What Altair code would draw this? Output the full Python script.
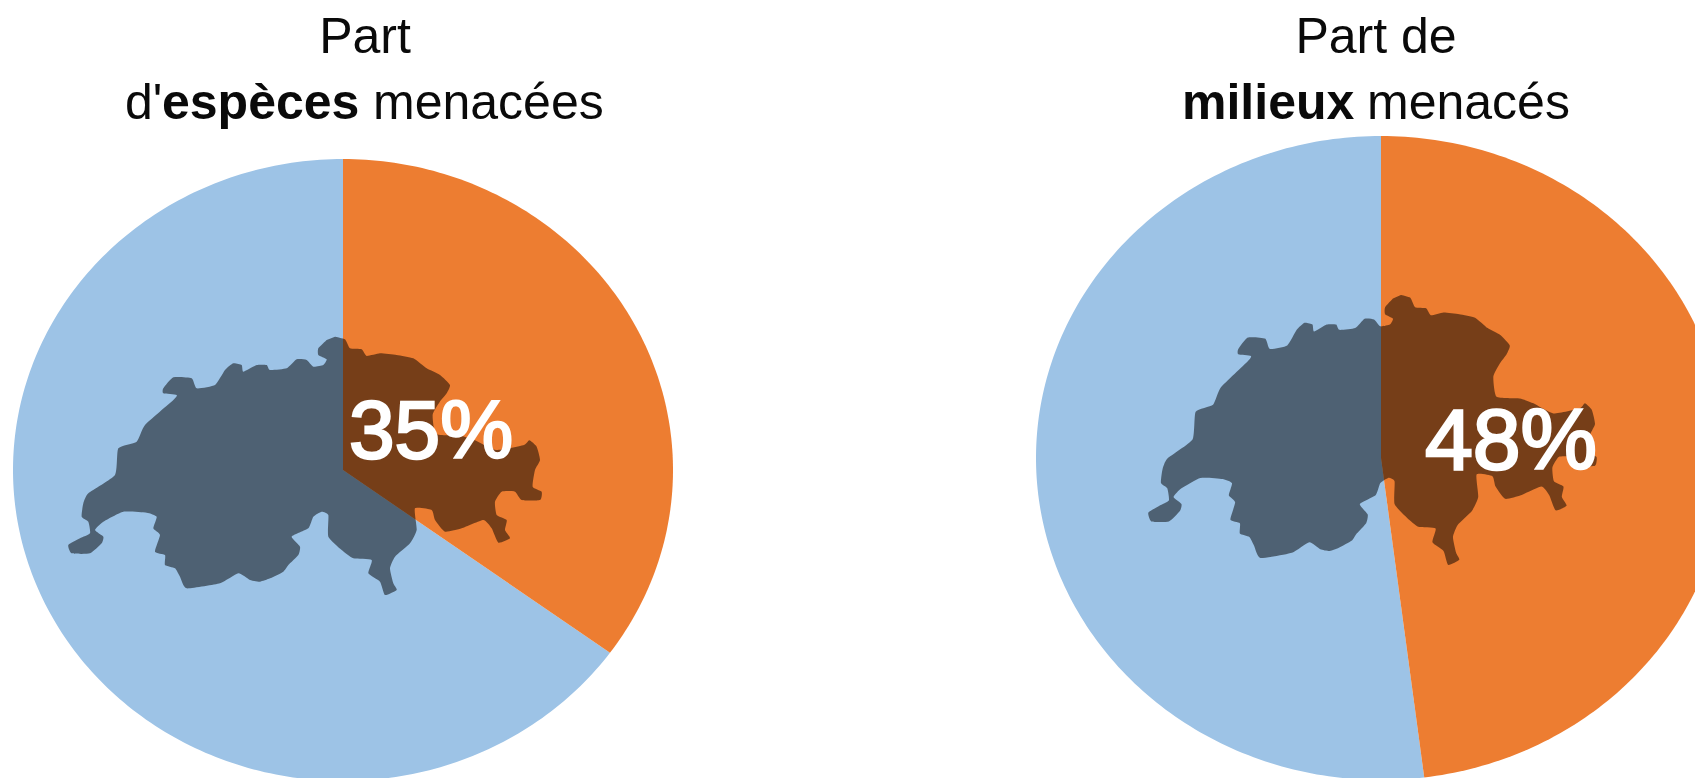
import math
import altair as alt
import pandas as pd

# shares of threatened species / habitats (%)
shares = [35, 48]
labels = ["35%", "48%"]
slice_names = ["menacé", "autre"]
slice_colors = ["#ED7D31", "#9DC3E6"]

# pie frames in picture pixels: centre x, centre y, x radius, y radius
pie_cx = [343, 1381]
pie_cy = [470, 458]
pie_rx = [330, 345]
pie_ry = [311, 322]

# Outline of Switzerland
swiss_x = [825,855,870,905,920,960,1010,1060,1100,1140,1170,1160,1139,1118,1128,1202,1245,1308,1392,1408,
           1430,1440,1425,1418,1445,1440,1385,1365,1325,1305,1310,1340,1335,1350,1315,1295,1270,1205,1155,1125,
           1115,1065,1070,1050,1005,990,1000,1010,975,960,925,935,880,845,805,805,785,760,745,695,
           720,715,685,670,630,600,570,535,480,380,360,345,315,315,285,300,280,290,260,190,
           130,105,130,125,90,35,25,60,90,85,65,70,85,165,175,230,255,340,350,310,
           310,340,395,410,465,495,520,545,550,590,620,630,680,710,740,760,790,800,775,775,800]
swiss_y = [50,58,85,88,108,100,105,115,145,165,195,220,246,284,342,347,361,390,375,361,
           380,420,450,500,515,540,540,515,515,545,585,600,630,655,668,625,600,625,635,600,
           570,565,630,670,710,745,790,810,825,785,760,720,715,690,650,585,575,590,625,650,
           680,705,735,755,775,785,780,760,790,805,770,745,735,705,695,645,625,590,578,575,
           605,630,650,670,700,700,675,655,640,605,590,550,520,465,385,365,315,240,225,220,
           205,172,175,205,195,150,130,135,155,135,135,150,145,118,120,140,135,118,105,85,60]

# Placement of the outline on each pie: left, top, x scale, y scale
map_x0 = [60 + 25 / 3, 1130 + 55 / 3]
map_y0 = [320 + 50 / 3, 280 + 45 / 3]
map_sx = [1 / 3, 0.947 / 3]
map_sy = [1 / 3, 1.045 / 3]

# Title pieces: text, x, baseline y, weight, anchor
title_text = ["Part", "d'", "espèces", "menacées", "Part de", "milieux", "menacés"]
title_x = [365, 125, 162, 373, 1376, 1182, 1367]
title_y = [53, 119, 119, 119, 53, 119, 119]
title_weight = ["normal", "normal", "bold", "normal", "normal", "bold", "normal"]
title_align = ["center", "left", "left", "left", "center", "left", "left"]

label_x = [431, 1511]
label_y = [458, 469]
label_size = [82, 86]

# ----- tables -----
slices = []
for p, share in enumerate(shares):
    for name, a, b in (("autre", share, 100), ("menacé", 0, share)):
        key = f"{p}-{name}"
        rows = [(pie_cx[p], pie_cy[p])]
        n = max(2, int((b - a) * 3.6) + 1)
        for i in range(n + 1):
            t = 2 * math.pi * (a + (b - a) * i / n) / 100
            rows.append((pie_cx[p] + pie_rx[p] * math.sin(t), pie_cy[p] - pie_ry[p] * math.cos(t)))
        for i, (x, y) in enumerate(rows):
            slices.append({"x": x, "y": y, "i": i, "key": key, "slice": name,
                           "layer": 0 if name == "autre" else 1})
slices = pd.DataFrame(slices)

maps = []
for p in range(2):
    for i, (sx, sy) in enumerate(zip(swiss_x, swiss_y)):
        maps.append({"x": map_x0[p] + (sx - 25) * map_sx[p],
                     "y": map_y0[p] + (sy - 50) * map_sy[p], "i": i, "map": p})
maps = pd.DataFrame(maps)

titles = pd.DataFrame({"t": title_text, "x": title_x, "y": title_y,
                       "w": title_weight, "a": title_align})
pct = pd.DataFrame({"t": labels, "x": label_x, "y": label_y, "s": label_size})

W, H = 1687, 770
X = alt.X("x:Q", scale=alt.Scale(domain=[8, 8 + W], nice=False, zero=False), axis=None)
Y = alt.Y("y:Q", scale=alt.Scale(domain=[8 + H, 8], nice=False, zero=False), axis=None)

layers = []
for layer in (0, 1):
    layers.append(
        alt.Chart(slices[slices.layer == layer]).mark_line(filled=True, strokeWidth=0, interpolate="linear").encode(
            x=X, y=Y, order="i:Q", detail="key:N",
            color=alt.Color("slice:N", scale=alt.Scale(domain=slice_names, range=slice_colors), legend=None),
        )
    )

swiss = alt.Chart(maps).mark_line(filled=True, strokeWidth=0, color="#000000", fillOpacity=0.5,
                                  interpolate="cardinal", tension=0.5).encode(
    x=X, y=Y, order="i:Q", detail="map:N"
)
layers.append(swiss)

for w in ("normal", "bold"):
    for a in ("left", "center"):
        sub = titles[(titles.w == w) & (titles.a == a)]
        if len(sub):
            layers.append(
                alt.Chart(sub).mark_text(font="Liberation Sans", fontSize=50, fontWeight=w, align=a,
                                         baseline="alphabetic", color="#0a0a0a").encode(x=X, y=Y, text="t:N")
            )

for _, row in pct.iterrows():
    layers.append(
        alt.Chart(pct[pct.t == row.t]).mark_text(font="Liberation Sans", fontSize=int(row.s), fontWeight="normal",
                                                 align="center", baseline="alphabetic", color="#FFFFFF",
                                                 stroke="#FFFFFF", strokeWidth=2.5).encode(
            x=X, y=Y, text="t:N")
    )

chart = alt.layer(*layers).properties(
    width=W, height=H, padding=0, autosize=alt.AutoSizeParams(type="none"), background="#FFFFFF"
).configure_view(stroke=None)

chart.save("out.html", embed_options={"renderer": "svg", "actions": False})
